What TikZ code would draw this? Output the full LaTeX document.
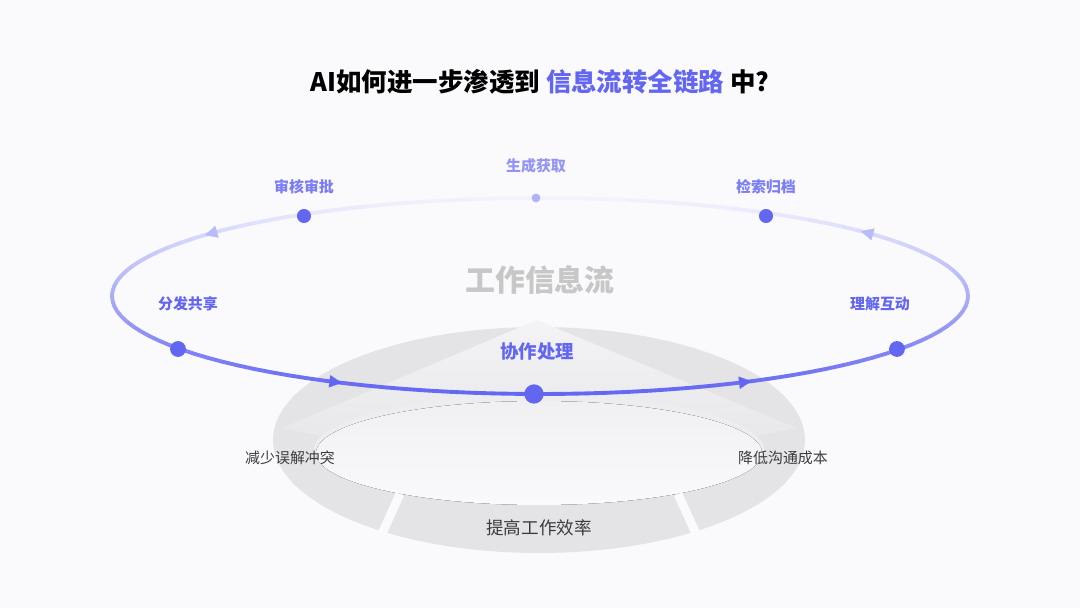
\documentclass[tikz,border=0pt]{standalone}
\usepackage{fontspec}
\setmainfont{Noto Sans CJK SC}
\usetikzlibrary{arrows.meta}
\definecolor{mypurple}{RGB}{99,102,241}
\definecolor{mybg}{RGB}{250,250,252}
\definecolor{myring}{RGB}{228,228,231}
\definecolor{mytext}{RGB}{60,60,64}

\begin{document}
\begin{tikzpicture}[x=0.02cm, y=-0.02cm,
    stage/.style={font=\fontsize{8.5}{10}\selectfont\bfseries, text=mypurple},
    result/.style={font=\fontsize{8.5}{10}\selectfont, text=mytext},
    dot/.style={circle, fill=mypurple, inner sep=0pt}]
    % background
    \fill[mybg] (0, 0) rectangle (1080, 608);
    \useasboundingbox (0, 0) rectangle (1080, 608);
    % cone and ring
    \fill[myring] (539, 440) ellipse (266 and 113);
    \shade[top color=mybg!70!myring, bottom color=myring]
        (537, 320) -- (282, 428) -- (539, 480) -- (796, 428) -- cycle;
    \fill[mybg!40!myring] (539, 450) ellipse (225 and 55);
    \fill[top color=mybg!55!myring, bottom color=mybg] (539, 453) ellipse (223 and 52);
    \coordinate (gapLa) at (400, 494);
    \coordinate (gapLb) at (370, 560);
    \coordinate (gapRa) at (678, 494);
    \coordinate (gapRb) at (708, 560);
    \draw[mybg, line width=5pt] (gapLa) -- (gapLb);
    \draw[mybg, line width=5pt] (gapRa) -- (gapRb);
    \node[result] (reduce) at (290, 458) {减少误解冲突};
    \node[result] (cost) at (783, 458) {降低沟通成本};
    \node[result, font=\fontsize{10}{12}\selectfont] (boost) at (539, 528) {提高工作效率};
    % title
    \node[font=\fontsize{14.5}{16}\selectfont\bfseries] (title) at (540, 82)
        {AI如何进一步渗透到 \textcolor{mypurple}{信息流转全链路} 中?};
    \node[font=\fontsize{17}{20}\selectfont\bfseries, text=black!22] (flow) at (540, 280) {工作信息流};
    % orbit
    \foreach \t in {0, 3, ..., 357} {
        \pgfmathsetmacro\f{int(8 + 92 * (0.5 + 0.5 * sin(\t)))}
        \pgfmathsetmacro\u{\t + 3}
        \draw[mypurple!\f!white, line width=2.2pt, line cap=round]
            ({540 + 428 * cos(\t)}, {296 + 98 * sin(\t)})
            -- ({540 + 428 * cos(\u)}, {296 + 98 * sin(\u)});
    }
    % arrow marks
    \foreach \t/\c in {118.6/100, 61.4/100, 219.5/45, 319.6/45} {
        \draw[-{Triangle[length=7pt, width=7pt]}, mypurple!\c!white, line width=0.1pt]
            ({540 + 428 * cos(\t + 2)}, {296 + 98 * sin(\t + 2)})
            -- ({540 + 428 * cos(\t - 1)}, {296 + 98 * sin(\t - 1)});
    }
    % stages
    \node[dot, minimum size=5pt, fill=mypurple!50!white] (get) at (536, 198) {};
    \node[dot, minimum size=8pt] (check) at (304, 216) {};
    \node[dot, minimum size=8pt] (file) at (766, 216) {};
    \node[dot, minimum size=9pt] (share) at (178, 349) {};
    \node[dot, minimum size=9pt] (talk) at (897, 349) {};
    \node[dot, minimum size=11pt] (work) at (534, 394) {};
    \node[stage, text=mypurple!70!white] at (536, 166) {生成获取};
    \node[stage, text=mypurple!85!white] at (304, 187) {审核审批};
    \node[stage, text=mypurple!85!white] at (766, 187) {检索归档};
    \node[stage] at (188, 304) {分发共享};
    \node[stage] at (880, 304) {理解互动};
    \node[stage, font=\fontsize{10.5}{12}\selectfont\bfseries] at (537, 352) {协作处理};
\end{tikzpicture}
\end{document}
